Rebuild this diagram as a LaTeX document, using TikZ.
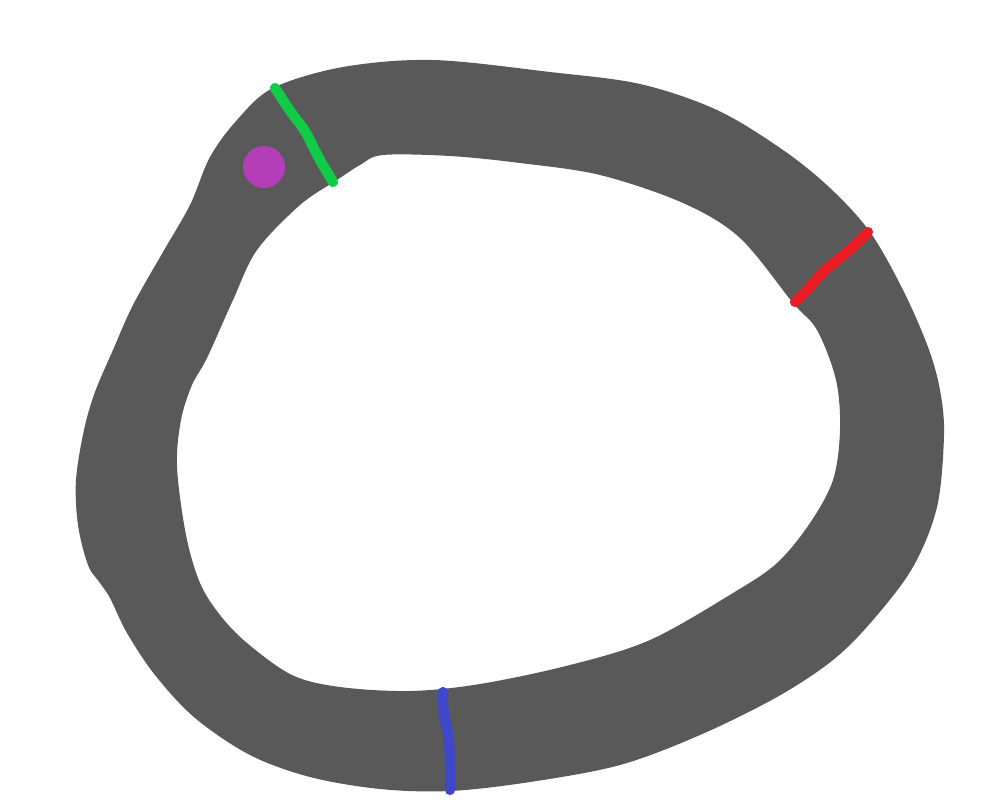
\documentclass[tikz,border=0pt]{standalone}
\definecolor{track}{HTML}{595959}
\definecolor{gatestart}{HTML}{10CC46}
\definecolor{gatemid}{HTML}{EC1C24}
\definecolor{gateend}{HTML}{3F48CC}
\definecolor{carfill}{HTML}{B43DB8}

\begin{document}
\begin{tikzpicture}[
  x=0.01cm,
  y=-0.01cm,
  gate/.style={
    line width=2.9pt,
    line cap=round,
    line join=round,
    rounded corners=3pt
  },
  road/.style={fill=track, even odd rule}
]
\useasboundingbox (0,0) rectangle (1000,800);

% Track surface (outer and inner edge)
\path[road]
  plot[smooth cycle, tension=0.55] coordinates {
    (433,60) (550,72) (640,84) (717,110) (783,150) (830,188)
    (870,232) (903,290) (928,347) (940,390) (944,435) (937,507) (913,567)
    (873,620) (833,660) (777,697) (700,735) (620,765) (530,782) (450,791)
    (380,789) (310,777) (250,755) (195,718) (155,675) (127,633) (110,598)
    (100,583) (88,565) (78,525) (76,480) (84,430) (95,392) (113,350)
    (133,305) (163,252) (190,205) (210,157) (237,120) (273,88) (343,67)}
  plot[smooth cycle, tension=0.55] coordinates {
    (383,155) (450,156) (520,163) (600,175) (683,203) (740,238)
    (793,303) (817,330) (836,380) (840,430) (833,480) (810,523) (777,563)
    (733,593) (650,640) (570,665) (480,684) (410,691) (340,687) (292,675)
    (247,643) (220,615) (200,583) (186,535) (177,467) (181,420) (192,385)
    (207,358) (233,300) (257,250) (300,205) (337,180) (360,165)};

% Start car
\fill[carfill] (264,167) circle (21);

% Gate lines across the track
\draw[gate, gatestart] (275,88) -- (292,114) -- (305,130) -- (318,157) -- (333,182);
\draw[gate, gatemid] (795,302) -- (810,287) -- (822,272) -- (840,258) -- (855,245) -- (868,232);
\draw[gate, gateend] (443,692) -- (443,713) -- (449,737) -- (450,765) -- (450,790);

\end{tikzpicture}
\end{document}
